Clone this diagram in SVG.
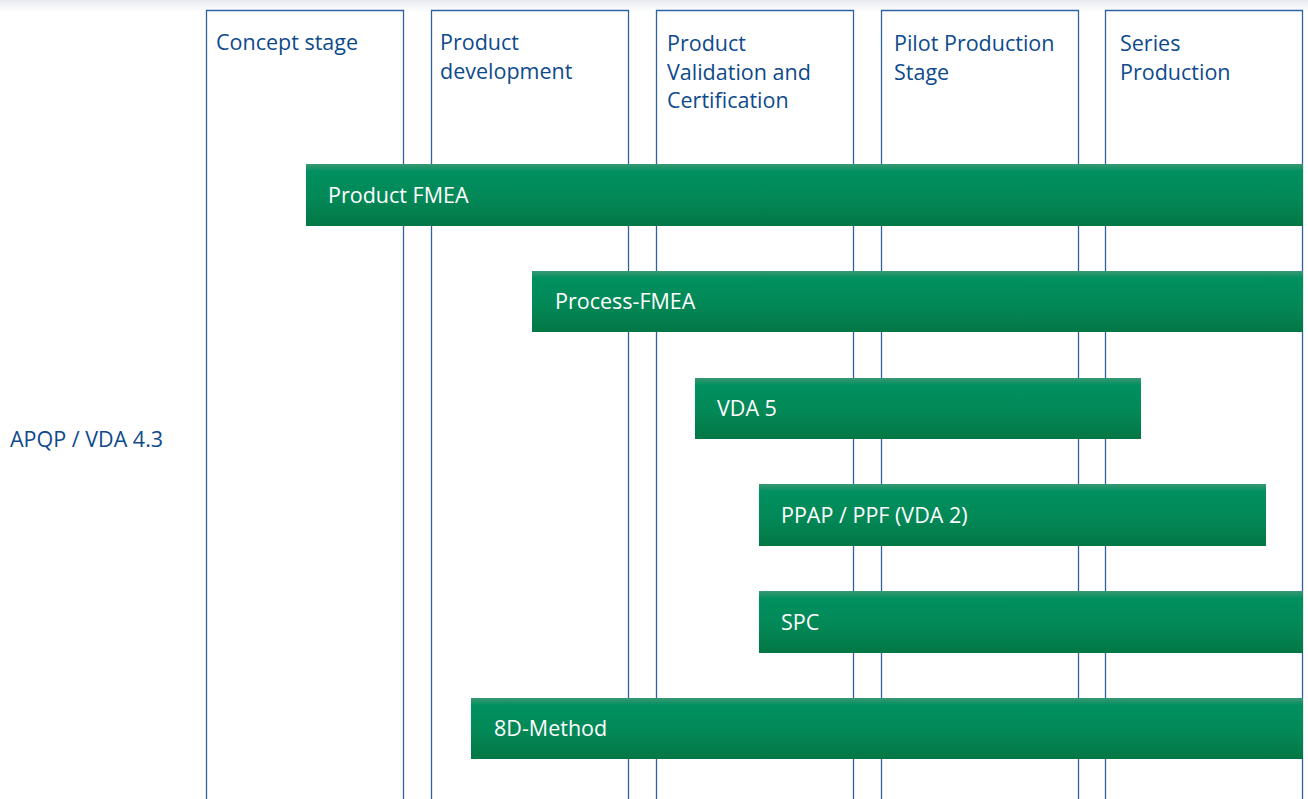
<svg xmlns="http://www.w3.org/2000/svg" width="1308" height="799" viewBox="0 0 1308 799">
<defs>
<linearGradient id="shadow" x1="0" y1="0" x2="0" y2="1">
<stop offset="0" stop-color="#e6eaef"/>
<stop offset="1" stop-color="#ffffff"/>
</linearGradient>
<linearGradient id="bar" x1="0" y1="0" x2="0" y2="1">
<stop offset="0" stop-color="#3a9873"/>
<stop offset="0.12" stop-color="#00905f"/>
<stop offset="0.55" stop-color="#038857"/>
<stop offset="1" stop-color="#027744"/>
</linearGradient>
<style>
.col{fill:none;stroke:#2f62a3;stroke-width:1.3}
.hd{font-family:"Open Sans","Noto Sans",sans-serif;font-size:21.5px;fill:#0e4a8c}
.bar{fill:url(#bar)}
.bt{font-family:"Open Sans","Noto Sans",sans-serif;font-size:21.5px;fill:#ffffff}
</style>
</defs>
<rect x="0" y="0" width="1308" height="799" fill="#ffffff"/>
<rect x="0" y="0" width="1308" height="12" fill="url(#shadow)"/>

<g id="col-concept">
<path class="col" d="M206.5,799 V10.5 H403.5 V799"/>
<text class="hd" x="216" y="50">Concept stage</text>
</g>
<g id="col-development">
<path class="col" d="M431.5,799 V10.5 H628.5 V799"/>
<text class="hd" x="440" y="50">Product</text>
<text class="hd" x="440" y="79">development</text>
</g>
<g id="col-validation">
<path class="col" d="M656.5,799 V10.5 H853.5 V799"/>
<text class="hd" x="667" y="51">Product</text>
<text class="hd" x="667" y="80">Validation and</text>
<text class="hd" x="667" y="108">Certification</text>
</g>
<g id="col-pilot">
<path class="col" d="M881.5,799 V10.5 H1078.5 V799"/>
<text class="hd" x="894" y="51">Pilot Production</text>
<text class="hd" x="894" y="80">Stage</text>
</g>
<g id="col-series">
<path class="col" d="M1105.5,799 V10.5 H1302.5 V799"/>
<text class="hd" x="1120" y="51">Series</text>
<text class="hd" x="1120" y="80">Production</text>
</g>

<g id="label-apqp">
<text class="hd" x="10" y="447">APQP / VDA 4.3</text>
</g>

<g id="bar-product-fmea">
<rect class="bar" x="306" y="164" width="997" height="62"/>
<text class="bt" x="328" y="203">Product FMEA</text>
</g>
<g id="bar-process-fmea">
<rect class="bar" x="532" y="271" width="771" height="61"/>
<text class="bt" x="555" y="309">Process-FMEA</text>
</g>
<g id="bar-vda5">
<rect class="bar" x="695" y="378" width="446" height="61"/>
<text class="bt" x="717" y="416">VDA 5</text>
</g>
<g id="bar-ppap">
<rect class="bar" x="759" y="484" width="507" height="62"/>
<text class="bt" x="781" y="523">PPAP / PPF (VDA 2)</text>
</g>
<g id="bar-spc">
<rect class="bar" x="759" y="591" width="544" height="62"/>
<text class="bt" x="781" y="630">SPC</text>
</g>
<g id="bar-8d">
<rect class="bar" x="471" y="698" width="832" height="61"/>
<text class="bt" x="494" y="736">8D-Method</text>
</g>
</svg>
